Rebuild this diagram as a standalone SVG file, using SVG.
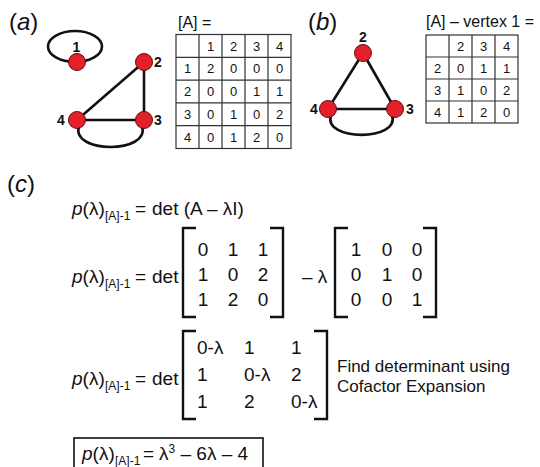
<svg xmlns="http://www.w3.org/2000/svg" width="540" height="467" viewBox="0 0 540 467">
<style>
text{font-family:"Liberation Sans",Arial,sans-serif;fill:#111}
.pl{font-size:24px}
.hd{font-size:16px}
.cell{font-size:13px;text-anchor:middle}
.nl{font-size:14px;font-weight:bold}
.eq{font-size:19px}
.sub{font-size:12px}
.mx{font-size:19px}
.mc{font-size:19px;text-anchor:middle}
.note{font-size:17px}
.edge{stroke:#111;stroke-width:2.6;fill:none}
.node{fill:#e4202a;stroke:#6a0a0a;stroke-width:1}
.grid{stroke:#333;stroke-width:1.2;fill:none}
.br{stroke:#111;stroke-width:2.4;fill:none}
</style>

<!-- panel labels -->
<text class="pl" x="9" y="30">(<tspan font-style="italic">a</tspan>)</text>
<text class="pl" x="308" y="30">(<tspan font-style="italic">b</tspan>)</text>
<text class="pl" x="7" y="192">(<tspan font-style="italic">c</tspan>)</text>

<!-- connectors -->
<g id="connectors">
  <ellipse class="edge" cx="75" cy="46.5" rx="27" ry="15.5"/>
  <line class="edge" x1="144" y1="62" x2="144" y2="120"/>
  <line class="edge" x1="144" y1="62" x2="77" y2="120"/>
  <line class="edge" x1="77" y1="120" x2="144" y2="120"/>
  <path class="edge" d="M79,126 C70,154 151,154 142,126"/>
  <line class="edge" x1="363" y1="53" x2="328" y2="109"/>
  <line class="edge" x1="363" y1="53" x2="395" y2="109"/>
  <line class="edge" x1="328" y1="109" x2="395" y2="109"/>
  <path class="edge" d="M331,115 C322,141.5 401,141.5 392,115"/>
</g>

<!-- graph (a) nodes -->
<g id="node-a1"><circle class="node" cx="77" cy="62" r="8.5"/><text class="nl" x="72.5" y="52">1</text></g>
<g id="node-a2"><circle class="node" cx="144" cy="62" r="8.5"/><text class="nl" x="154" y="67">2</text></g>
<g id="node-a3"><circle class="node" cx="144" cy="120" r="8.5"/><text class="nl" x="154" y="125">3</text></g>
<g id="node-a4"><circle class="node" cx="77" cy="120" r="8.5"/><text class="nl" x="57" y="125">4</text></g>

<!-- graph (b) nodes -->
<g id="node-b2"><circle class="node" cx="363" cy="53" r="8.5"/><text class="nl" x="359" y="42">2</text></g>
<g id="node-b3"><circle class="node" cx="395" cy="109" r="8.5"/><text class="nl" x="406" y="114">3</text></g>
<g id="node-b4"><circle class="node" cx="328" cy="109" r="8.5"/><text class="nl" x="310" y="114">4</text></g>

<!-- table (a) -->
<g id="table-a">
  <text class="hd" x="178" y="28">[A] =</text>
  <rect class="grid" x="176" y="34.5" width="115" height="114"/>
  <path class="grid" d="M199,34.5V148.5M222,34.5V148.5M245,34.5V148.5M268,34.5V148.5M176,57.3H291M176,80.1H291M176,102.9H291M176,125.7H291"/>
  <text class="cell" x="210.5" y="50.5">1</text><text class="cell" x="233.5" y="50.5">2</text><text class="cell" x="256.5" y="50.5">3</text><text class="cell" x="279.5" y="50.5">4</text>
  <text class="cell" x="187.5" y="73.3">1</text><text class="cell" x="210.5" y="73.3">2</text><text class="cell" x="233.5" y="73.3">0</text><text class="cell" x="256.5" y="73.3">0</text><text class="cell" x="279.5" y="73.3">0</text>
  <text class="cell" x="187.5" y="96.1">2</text><text class="cell" x="210.5" y="96.1">0</text><text class="cell" x="233.5" y="96.1">0</text><text class="cell" x="256.5" y="96.1">1</text><text class="cell" x="279.5" y="96.1">1</text>
  <text class="cell" x="187.5" y="118.9">3</text><text class="cell" x="210.5" y="118.9">0</text><text class="cell" x="233.5" y="118.9">1</text><text class="cell" x="256.5" y="118.9">0</text><text class="cell" x="279.5" y="118.9">2</text>
  <text class="cell" x="187.5" y="141.7">4</text><text class="cell" x="210.5" y="141.7">0</text><text class="cell" x="233.5" y="141.7">1</text><text class="cell" x="256.5" y="141.7">2</text><text class="cell" x="279.5" y="141.7">0</text>
</g>

<!-- table (b) -->
<g id="table-b">
  <text class="hd" x="426" y="27">[A] – vertex 1 =</text>
  <rect class="grid" x="426" y="35" width="92" height="88"/>
  <path class="grid" d="M449,35V123M472,35V123M495,35V123M426,57H518M426,79H518M426,101H518"/>
  <text class="cell" x="460.5" y="50.5">2</text><text class="cell" x="483.5" y="50.5">3</text><text class="cell" x="506.5" y="50.5">4</text>
  <text class="cell" x="437.5" y="72.5">2</text><text class="cell" x="460.5" y="72.5">0</text><text class="cell" x="483.5" y="72.5">1</text><text class="cell" x="506.5" y="72.5">1</text>
  <text class="cell" x="437.5" y="94.5">3</text><text class="cell" x="460.5" y="94.5">1</text><text class="cell" x="483.5" y="94.5">0</text><text class="cell" x="506.5" y="94.5">2</text>
  <text class="cell" x="437.5" y="116.5">4</text><text class="cell" x="460.5" y="116.5">1</text><text class="cell" x="483.5" y="116.5">2</text><text class="cell" x="506.5" y="116.5">0</text>
</g>

<!-- equation row 1 -->
<text class="eq" y="215"><tspan x="72" font-style="italic">p</tspan>(λ)<tspan class="sub" x="105" dy="5">[A]-1</tspan><tspan x="135" dy="-5">=</tspan><tspan x="152">det (A – λI)</tspan></text>

<!-- equation row 2 -->
<text class="eq" y="283"><tspan x="72" font-style="italic">p</tspan>(λ)<tspan class="sub" x="105" dy="5">[A]-1</tspan><tspan x="135" dy="-5">=</tspan><tspan x="152">det</tspan></text>
<path class="br" d="M196,228H183V317H196"/>
<path class="br" d="M270,228H283V317H270"/>
<text class="mc" x="203" y="256">0</text><text class="mc" x="233" y="256">1</text><text class="mc" x="263" y="256">1</text>
<text class="mc" x="203" y="281">1</text><text class="mc" x="233" y="281">0</text><text class="mc" x="263" y="281">2</text>
<text class="mc" x="203" y="306">1</text><text class="mc" x="233" y="306">2</text><text class="mc" x="263" y="306">0</text>
<text class="eq" x="302" y="283">– λ</text>
<path class="br" d="M348,228H335V317H348"/>
<path class="br" d="M423,228H436V317H423"/>
<text class="mc" x="356" y="256">1</text><text class="mc" x="387" y="256">0</text><text class="mc" x="417" y="256">0</text>
<text class="mc" x="356" y="281">0</text><text class="mc" x="387" y="281">1</text><text class="mc" x="417" y="281">0</text>
<text class="mc" x="356" y="306">0</text><text class="mc" x="387" y="306">0</text><text class="mc" x="417" y="306">1</text>

<!-- equation row 3 -->
<text class="eq" y="385"><tspan x="72" font-style="italic">p</tspan>(λ)<tspan class="sub" x="105" dy="5">[A]-1</tspan><tspan x="135" dy="-5">=</tspan><tspan x="152">det</tspan></text>
<path class="br" d="M196,331H183V419H196"/>
<path class="br" d="M314,331H327V419H314"/>
<text class="mx" x="197" y="354">0-λ</text><text class="mx" x="244" y="354">1</text><text class="mx" x="291" y="354">1</text>
<text class="mx" x="197" y="381">1</text><text class="mx" x="244" y="381">0-λ</text><text class="mx" x="291" y="381">2</text>
<text class="mx" x="197" y="408">1</text><text class="mx" x="244" y="408">2</text><text class="mx" x="291" y="408">0-λ</text>
<text class="note" x="337" y="372">Find determinant using</text>
<text class="note" x="337" y="392">Cofactor Expansion</text>

<!-- result box -->
<rect x="74" y="438" width="189" height="40" fill="none" stroke="#111" stroke-width="1.6"/>
<text class="eq" y="460"><tspan x="82" font-style="italic">p</tspan>(λ)<tspan class="sub" x="115" dy="5">[A]-1</tspan><tspan x="143" dy="-5">=</tspan><tspan x="159">λ</tspan><tspan font-size="12" dy="-7">3</tspan><tspan dy="7"> – 6λ – 4</tspan></text>
</svg>
